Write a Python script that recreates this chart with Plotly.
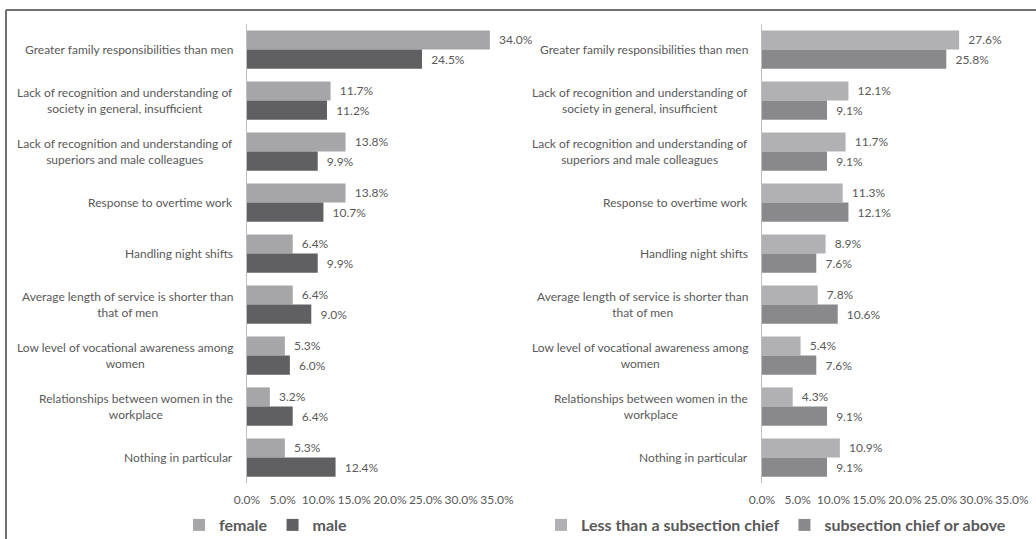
import plotly.graph_objects as go

# Reasons (top to bottom) and their wrapped display labels
categories = [
    "Greater family responsibilities than men",
    "Lack of recognition and understanding of society in general, insufficient",
    "Lack of recognition and understanding of superiors and male colleagues",
    "Response to overtime work",
    "Handling night shifts",
    "Average length of service is shorter than that of men",
    "Low level of vocational awareness among women",
    "Relationships between women in the workplace",
    "Nothing in particular",
]
category_labels = [
    "Greater family responsibilities than men",
    "Lack of recognition and understanding of<br>society in general, insufficient",
    "Lack of recognition and understanding of<br>superiors and male colleagues",
    "Response to overtime work",
    "Handling night shifts",
    "Average length of service is shorter than<br>that of men",
    "Low level of vocational awareness among<br>women",
    "Relationships between women in the<br>workplace",
    "Nothing in particular",
]

# Percentages by sex
female = [34.0, 11.7, 13.8, 13.8, 6.4, 6.4, 5.3, 3.2, 5.3]
male = [24.5, 11.2, 9.9, 10.7, 9.9, 9.0, 6.0, 6.4, 12.4]

# Percentages by position
below_chief = [27.6, 12.1, 11.7, 11.3, 8.9, 7.8, 5.4, 4.3, 10.9]
chief_or_above = [25.8, 9.1, 9.1, 12.1, 7.6, 10.6, 7.6, 9.1, 9.1]

x_ticks = [0, 5, 10, 15, 20, 25, 30, 35]

W, H = 1036, 539
FONT = "Lato, 'Open Sans', sans-serif"
TXT = "#595959"
NB = "\u00a0"


def bar(name, values, color, xaxis, yaxis, legend):
    return go.Bar(
        name=name, y=categories, x=values, orientation="h",
        marker=dict(color=color, line=dict(width=0)),
        text=values, texttemplate=NB * 2 + "%{x:.1f}%", textposition="outside",
        textfont=dict(size=12, color=TXT, family=FONT),
        cliponaxis=False, xaxis=xaxis, yaxis=yaxis, legend=legend,
    )


fig = go.Figure()
fig.add_trace(bar("female", female, "#a6a6a8", "x", "y", "legend"))
fig.add_trace(bar("male", male, "#606062", "x", "y", "legend"))
fig.add_trace(bar("Less than a subsection chief", below_chief, "#b1b1b3", "x2", "y2", "legend2"))
fig.add_trace(bar("subsection chief or above", chief_or_above, "#89898b", "x2", "y2", "legend2"))

ydom = [1 - 483 / H, 1 - 24 / H]
left_dom = [247 / W, 497 / W]
right_dom = [762 / W, 1012 / W]

xaxis_common = dict(
    range=[0, 35], tickvals=x_ticks, ticktext=[f"{v:.1f}%" for v in x_ticks],
    showgrid=False, zeroline=False, showline=False, ticks="", tickangle=0,
    ticklabelstandoff=8,
    tickfont=dict(size=12, color=TXT, family=FONT), fixedrange=True, automargin=False,
)
yaxis_common = dict(
    categoryorder="array", categoryarray=categories, autorange="reversed",
    showgrid=False, zeroline=False, showline=True, linecolor="#bfbfbf", linewidth=1,
    showticklabels=False, ticks="", domain=ydom, automargin=False, fixedrange=True,
)

legend_font = dict(size=16, color=TXT, family=FONT, weight="bold")
fig.update_layout(
    width=W, height=H, margin=dict(l=0, r=0, t=0, b=0, autoexpand=False),
    paper_bgcolor="white", plot_bgcolor="white",
    barmode="group", bargap=0.25, bargroupgap=0,
    font=dict(family=FONT, color=TXT),
    xaxis=dict(domain=left_dom, anchor="y", **xaxis_common),
    yaxis=dict(anchor="x", **yaxis_common),
    xaxis2=dict(domain=right_dom, anchor="y2", **xaxis_common),
    yaxis2=dict(anchor="x2", **yaxis_common),
    legend=dict(orientation="h", x=266 / W, xanchor="center", y=1 - 525 / H, yanchor="middle",
                font=legend_font, itemwidth=30, bgcolor="rgba(0,0,0,0)"),
    legend2=dict(orientation="h", x=776 / W, xanchor="center", y=1 - 525 / H, yanchor="middle",
                 font=legend_font, itemwidth=30, bgcolor="rgba(0,0,0,0)"),
)

# Category labels, right-aligned to each axis with centred lines
annotations = []
for xd, yd in (("x domain", "y"), ("x2 domain", "y2")):
    for cat, lab in zip(categories, category_labels):
        annotations.append(dict(
            x=0, xref=xd, y=cat, yref=yd, text=lab, showarrow=False,
            xanchor="right", yanchor="middle", align="center", xshift=-12,
            font=dict(size=12, color=TXT, family=FONT),
        ))
fig.update_layout(annotations=annotations)

# Frame lines along the top and left edges
fig.add_shape(type="line", xref="paper", yref="paper", x0=6 / W, x1=1, y0=1 - 10 / H, y1=1 - 10 / H,
              line=dict(color="#404040", width=1.5))
fig.add_shape(type="line", xref="paper", yref="paper", x0=6 / W, x1=6 / W, y0=0, y1=1 - 10 / H,
              line=dict(color="#707070", width=2))

fig.write_html(
    "out.html",
    post_script="document.body.style.margin='0';document.body.style.overflow='hidden';",
)
